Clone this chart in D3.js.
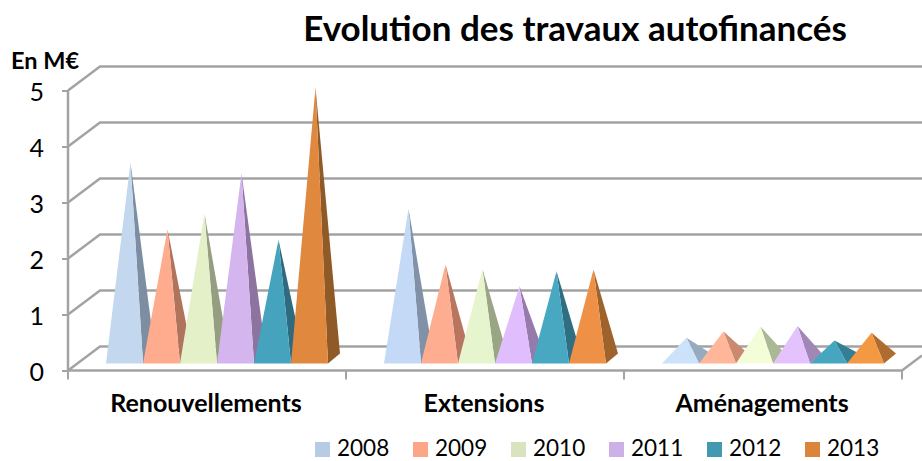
<!DOCTYPE html>
<html><head><meta charset="UTF-8"><style>
body { margin: 0; background: #fff; }
text { font-family: Lato, sans-serif; fill: #000; }
.axis .domain { display: none; }
</style></head>
<body>
<svg width="922" height="461"></svg>
<script src="https://cdn.jsdelivr.net/npm/d3@7/dist/d3.min.js"></script>
<script>
var categories = ["Renouvellements", "Extensions", "Aménagements"];
var years = ["2008", "2009", "2010", "2011", "2012", "2013"];
var v2008 = [3.50, 2.68, 0.37];
var v2009 = [2.31, 1.68, 0.48];
var v2010 = [2.59, 1.60, 0.57];
var v2011 = [3.31, 1.29, 0.58];
var v2012 = [2.12, 1.56, 0.32];
var v2013 = [4.84, 1.59, 0.46];
var series = [v2008, v2009, v2010, v2011, v2012, v2013];
var yTicks = [0, 1, 2, 3, 4, 5];

var legendColors = ["#b7cce4", "#fca587", "#d7e4bd", "#ccb0e6", "#4399b1", "#dd843c"];
var frontColors = [
  ["#c3d7ef", "#ffab8e", "#e3f0c8", "#d4b5ee", "#46a3bd", "#e0883e"],
  ["#c3d9f5", "#ffad90", "#e7f5cf", "#e0bdfd", "#48a8c2", "#ee9045"],
  ["#cbe2fa", "#ffb699", "#f3fdd8", "#e4c3fd", "#46a6c0", "#f59843"]
];
var sideColors = [
  ["#7d8ea3", "#b0735c", "#959e80", "#8d74a0", "#2f6b7e", "#905a28"],
  ["#8192a8", "#b87660", "#9aa586", "#967aac", "#2f6f82", "#9e622c"],
  ["#97abc0", "#c98a70", "#abb896", "#a286b5", "#347f96", "#ae6c30"]
];

var gridColor = "#a3a3a3",
    wallDx = 32, wallDy = -24,   // depth of the 3d box
    baseDx = 12, baseDy = -10,   // depth of one pyramid base
    baseFront = 7;               // gap from floor front edge to pyramid front

var svg = d3.select("svg");

var x0 = d3.scaleBand().domain(categories).range([68, 902]);
var x1 = d3.scaleBand().domain(years).range([38, 260]);
var y = d3.scaleLinear().domain([0, 5]).range([370.5, 90.5]);

// back wall and side wall
var grid = svg.append("g")
    .attr("fill", "none")
    .attr("stroke", gridColor)
    .attr("stroke-width", 2.5);

yTicks.forEach(function(t) {
  grid.append("path").attr("d", d3.line()([
    [68, y(t)], [68 + wallDx, y(t) + wallDy], [922, y(t) + wallDy]
  ]));
});
grid.append("path").attr("d", d3.line()([[68, y(0)], [68, y(5)]]));
grid.append("path").attr("d", d3.line()([[68, y(0)], [902, y(0)], [922, y(0) - 15]]));

// axes
var yAxis = svg.append("g")
    .attr("class", "axis")
    .attr("transform", "translate(68,0)")
    .call(d3.axisLeft(y).tickValues(yTicks).tickFormat(d3.format("d")).tickSize(6).tickPadding(18));
yAxis.selectAll("line").attr("stroke", gridColor).attr("stroke-width", 2);
yAxis.selectAll("text")
    .attr("font-size", 25)
    .attr("y", 2)
    .style("font-family", "Lato, sans-serif");

var xAxis = svg.append("g")
    .attr("class", "axis")
    .attr("transform", "translate(0," + y(0) + ")")
    .call(d3.axisBottom(x0).tickSize(0).tickPadding(24));
xAxis.selectAll("text")
    .attr("font-size", 25)
    .attr("font-weight", 700)
    .style("font-family", "Lato, sans-serif");
xAxis.selectAll(".tick").attr("transform", function(d) {
  return "translate(" + (x0(d) + x0.bandwidth() / 2 - 1) + ",0)";
});

svg.append("g").selectAll("line")
    .data(x0.domain().concat("end"))
    .enter().append("line")
      .attr("x1", function(d, i) { return 68 + i * x0.bandwidth(); })
      .attr("x2", function(d, i) { return 68 + i * x0.bandwidth(); })
      .attr("y1", y(0))
      .attr("y2", y(0) + 9)
      .attr("stroke", gridColor)
      .attr("stroke-width", 2);

// pyramids, drawn left to right so the next one covers the side of the last
var marks = svg.append("g");
categories.forEach(function(cat, c) {
  years.forEach(function(yr, s) {
    var left = x0(cat) + x1(yr),
        right = left + x1.bandwidth(),
        base = y(0) - baseFront,
        tipX = (left + right) / 2 + baseDx / 2,
        tipY = y(series[s][c]) + wallDy / 2;

    marks.append("path")
        .attr("fill", sideColors[c][s])
        .attr("d", d3.line()([[right, base], [right + baseDx, base + baseDy], [tipX, tipY]]) + "Z");
    marks.append("path")
        .attr("fill", frontColors[c][s])
        .attr("d", d3.line()([[left, base], [right, base], [tipX, tipY]]) + "Z");
  });
});

// title and unit
svg.append("text")
    .attr("x", 575)
    .attr("y", 41)
    .attr("text-anchor", "middle")
    .attr("font-size", 35)
    .attr("font-weight", 700)
    .text("Evolution des travaux autofinancés");

svg.append("text")
    .attr("x", 11)
    .attr("y", 69)
    .attr("font-size", 23.5)
    .attr("font-weight", 700)
    .text("En M€");

// legend
var legend = svg.append("g").selectAll("g")
    .data(years)
    .enter().append("g")
      .attr("transform", function(d, i) { return "translate(" + (315 + i * 98) + ",442)"; });

legend.append("rect")
    .attr("width", 15)
    .attr("height", 15)
    .attr("fill", function(d, i) { return legendColors[i]; });

legend.append("text")
    .attr("x", 22)
    .attr("y", 14)
    .attr("font-size", 22.5)
    .text(function(d) { return d; });
</script>
</body></html>
